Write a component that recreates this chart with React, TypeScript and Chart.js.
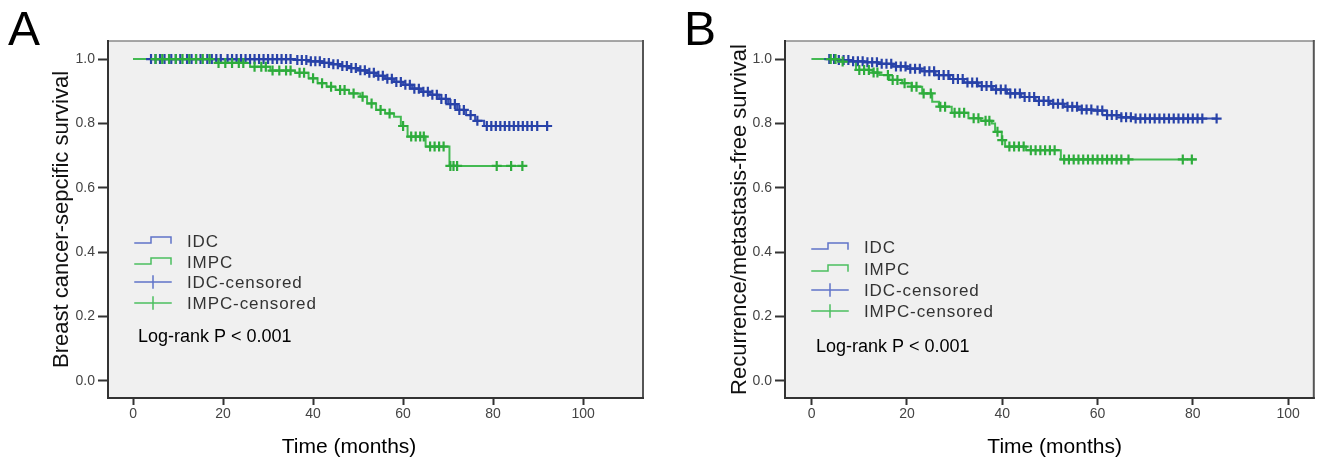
import React, { useEffect, useRef } from 'react';
import { Chart, registerables } from 'chart.js';
Chart.register(...registerables);

// ---- axis ticks ----
const xTickValues = [0, 20, 40, 60, 80, 100];
const yTickValues = [0, 0.2, 0.4, 0.6, 0.8, 1.0];

// ---- Panel A: breast cancer-specific survival ----
const idcA_times = [0, 36, 39, 42, 44, 46, 48, 50, 52, 54, 56, 58, 60, 62, 64, 66, 68, 70, 72, 74, 76, 78];
const idcA_surv = [1.0, 0.997, 0.993, 0.988, 0.984, 0.978, 0.972, 0.965, 0.957, 0.948, 0.939, 0.929, 0.92, 0.908, 0.898, 0.889, 0.876, 0.86, 0.842, 0.826, 0.808, 0.792];
const idcA_end = 92;
const idcA_censor = [4, 5, 6, 7, 8.5, 9.5, 10.5, 12, 13, 14, 15, 16.5, 17.5, 18.5, 19.5, 21, 22, 23, 24, 25, 26, 27, 28, 29, 30, 31, 32, 33, 34, 35, 36.5, 37.5, 38.5, 39.5, 40.5, 41.5, 42.5, 43.5, 44.5, 45.5, 46.5, 47.5, 48.5, 49.5, 50.5, 51.5, 52.5, 53.5, 54.5, 55.5, 56.5, 57.5, 58.5, 59.5, 60.5, 61.5, 62.5, 63.5, 64.5, 65.5, 66.5, 67.5, 68.5, 69.5, 70.5, 71.5, 72.5, 73.5, 75, 76.5, 78.6, 79.6, 80.6, 81.6, 82.6, 83.6, 84.6, 85.6, 86.6, 87.6, 88.6, 89.8, 92];

const impcA_times = [0, 18.5, 26, 30.5, 36, 39, 41, 43, 45, 48, 50.5, 52, 54, 56, 58, 59.5, 61, 65, 70.3];
const impcA_surv = [1.0, 0.988, 0.976, 0.964, 0.957, 0.94, 0.925, 0.914, 0.904, 0.893, 0.883, 0.862, 0.842, 0.831, 0.821, 0.792, 0.759, 0.728, 0.668];
const impcA_end = 86.8;
const impcA_censor = [5, 6.5, 8, 9.5, 11, 12.5, 14, 15.5, 17, 19, 20.5, 22, 23.5, 24.5, 27, 28.5, 29.5, 31, 32.5, 34, 35, 37, 38, 40, 42, 44, 46, 47, 49, 51, 53, 55, 57, 60, 61.8, 62.8, 63.8, 64.6, 66, 67, 68, 69, 70.5, 71.2, 72, 80.8, 84, 86.5];

// ---- Panel B: recurrence/metastasis-free survival ----
const idcB_times = [0, 5, 8, 11, 14, 17, 20, 23, 26, 29, 32, 35, 38, 41, 44, 47, 50, 53, 56, 59, 62, 65, 67.5];
const idcB_surv = [1.0, 0.997, 0.993, 0.99, 0.985, 0.977, 0.97, 0.962, 0.95, 0.938, 0.927, 0.916, 0.905, 0.893, 0.882, 0.87, 0.861, 0.852, 0.843, 0.84, 0.826, 0.819, 0.815];
const idcB_end = 85;
const idcB_censor = [3.7, 4.7, 5.7, 6.7, 7.7, 8.7, 9.7, 10.7, 11.7, 12.7, 13.7, 14.7, 15.7, 16.7, 17.7, 18.7, 19.7, 20.7, 21.7, 22.7, 23.7, 24.7, 25.7, 26.7, 27.7, 28.7, 29.7, 30.7, 31.7, 32.7, 33.7, 34.7, 35.7, 36.7, 37.7, 38.7, 39.7, 40.7, 41.7, 42.7, 43.7, 44.7, 45.7, 46.7, 47.7, 48.7, 49.7, 50.7, 51.7, 52.7, 53.7, 54.7, 55.7, 56.7, 57.7, 58.7, 60, 61, 62, 63, 64, 65, 66, 67, 68, 69, 70, 71, 72, 73, 74, 75, 76, 77, 78, 79, 80, 81, 82, 85];

const impcB_times = [0, 5.5, 9.3, 12.8, 14.2, 16.3, 19, 21, 23.2, 25.3, 26.7, 29.4, 32.9, 35.5, 37.8, 38.5, 39.9, 40.6, 45, 52.3];
const impcB_surv = [1.0, 0.992, 0.966, 0.958, 0.95, 0.935, 0.925, 0.914, 0.893, 0.867, 0.852, 0.833, 0.816, 0.808, 0.8, 0.774, 0.748, 0.728, 0.717, 0.688];
const impcB_end = 80.8;
const impcB_censor = [4, 5, 6.5, 10, 11, 12, 13, 13.8, 16, 17, 18, 19.5, 21, 22, 23.5, 25, 27, 28, 30, 31, 32, 34, 35, 36.5, 37.3, 39, 40, 41.5, 42.5, 43.5, 44.5, 46, 47, 48, 49, 50, 51, 53, 54, 55, 56, 57, 58, 59, 60, 61, 62, 63, 64, 65, 66.5, 77.9, 79.8];

const legendLabels = ['IDC', 'IMPC', 'IDC-censored', 'IMPC-censored'];

// ---- colours ----
const BLUE_LINE = 'rgb(55,80,178)';
const BLUE_MARK = 'rgb(40,66,168)';
const GREEN_LINE = 'rgb(68,186,82)';
const GREEN_MARK = 'rgb(46,172,60)';
const BLUE_LEG = 'rgb(95,115,200)';
const GREEN_LEG = 'rgb(75,190,95)';
const FONT = '"Liberation Sans", Arial, sans-serif';

function stepPoints(times: number[], surv: number[], end: number) {
  const pts = times.map((t, i) => ({ x: t, y: surv[i] }));
  pts.push({ x: end, y: surv[surv.length - 1] });
  return pts;
}
function survAt(times: number[], surv: number[], t: number) {
  let v = surv[0];
  for (let i = 0; i < times.length; i++) if (times[i] <= t) v = surv[i];
  return v;
}
function censorPoints(times: number[], surv: number[], censor: number[]) {
  return censor.map((t) => ({ x: t, y: survAt(times, surv, t) }));
}

const decorPlugin = {
  id: 'kmDecor',
  beforeDraw(chart: any) {
    const { ctx, chartArea: ca } = chart;
    ctx.save();
    ctx.fillStyle = '#f0f0f0';
    ctx.fillRect(ca.left, ca.top, ca.right - ca.left, ca.bottom - ca.top);
    ctx.restore();
  },
  afterDraw(chart: any, _a: any, o: any) {
    const { ctx, chartArea: ca } = chart;
    ctx.save();
    // frame
    ctx.lineCap = 'square';
    ctx.strokeStyle = '#8a8a8a';
    ctx.lineWidth = 1.5;
    ctx.beginPath(); ctx.moveTo(ca.left, ca.top); ctx.lineTo(ca.right, ca.top); ctx.stroke();
    ctx.strokeStyle = '#555';
    ctx.lineWidth = 2;
    ctx.beginPath(); ctx.moveTo(ca.right, ca.top); ctx.lineTo(ca.right, ca.bottom); ctx.stroke();
    ctx.strokeStyle = '#333';
    ctx.beginPath(); ctx.moveTo(ca.left, ca.top); ctx.lineTo(ca.left, ca.bottom); ctx.lineTo(ca.right, ca.bottom); ctx.stroke();

    // panel letter
    ctx.fillStyle = '#000';
    ctx.font = `48px ${FONT}`;
    ctx.textBaseline = 'alphabetic';
    ctx.textAlign = 'left';
    ctx.fillText(o.letter, o.letterX, 45);

    // x axis title
    const xs = chart.scales.x;
    ctx.font = `21px ${FONT}`;
    ctx.textAlign = 'center';
    ctx.textBaseline = 'middle';
    ctx.fillText(o.xTitle, xs.getPixelForValue(o.xTitleAt), 447);

    // legend
    ctx.textAlign = 'left';
    ctx.font = `17px ${FONT}`;
    try { (ctx as any).letterSpacing = '0.9px'; } catch (e) {}
    const cols = [BLUE_LEG, GREEN_LEG, BLUE_LEG, GREEN_LEG];
    legendLabels.forEach((lab, i) => {
      const y = o.legendRows[i];
      const x0 = o.legendX;
      ctx.strokeStyle = cols[i];
      ctx.lineWidth = 1.5;
      ctx.beginPath();
      if (i < 2) {
        ctx.moveTo(x0, y + 2);
        ctx.lineTo(x0 + 16, y + 2);
        ctx.lineTo(x0 + 16, y - 4);
        ctx.lineTo(x0 + 36, y - 4);
        ctx.lineTo(x0 + 36, y + 2);
      } else {
        ctx.moveTo(x0, y);
        ctx.lineTo(x0 + 36, y);
        ctx.moveTo(x0 + 18, y - 6);
        ctx.lineTo(x0 + 18, y + 6);
      }
      ctx.stroke();
      ctx.fillStyle = '#333';
      ctx.fillText(lab, x0 + 52, y + 1);
    });
    try { (ctx as any).letterSpacing = '0px'; } catch (e) {}
    ctx.fillStyle = '#000';
    ctx.font = `18px ${FONT}`;
    ctx.fillText('Log-rank P < 0.001', o.logX, o.logY);
    ctx.restore();
  },
};

type PanelProps = {
  left: number;
  width: number;
  areaLeft: number;
  areaRight: number;
  yTitle: string;
  yTitlePad: number;
  xMin: number;
  xMax: number;
  idcT: number[]; idcS: number[]; idcEnd: number; idcC: number[];
  impcT: number[]; impcS: number[]; impcEnd: number; impcC: number[];
  decor: any;
};

function Panel(p: PanelProps) {
  const ref = useRef<HTMLCanvasElement | null>(null);
  useEffect(() => {
    if (!ref.current) return;
    const H = 463;
    const chart = new Chart(ref.current, {
      type: 'scatter',
      data: {
        datasets: [
          {
            label: 'IDC',
            data: stepPoints(p.idcT, p.idcS, p.idcEnd),
            showLine: true,
            stepped: 'before',
            borderColor: BLUE_LINE,
            borderWidth: 2,
            pointRadius: 0,
            order: 4,
          } as any,
          {
            label: 'IMPC',
            data: stepPoints(p.impcT, p.impcS, p.impcEnd),
            showLine: true,
            stepped: 'before',
            borderColor: GREEN_LINE,
            borderWidth: 2,
            pointRadius: 0,
            order: 3,
          } as any,
          {
            label: 'IDC-censored',
            data: censorPoints(p.idcT, p.idcS, p.idcC),
            pointStyle: 'cross',
            pointRadius: 5,
            borderColor: BLUE_MARK,
            backgroundColor: BLUE_MARK,
            borderWidth: 2.2,
            order: 2,
          } as any,
          {
            label: 'IMPC-censored',
            data: censorPoints(p.impcT, p.impcS, p.impcC),
            pointStyle: 'cross',
            pointRadius: 5,
            borderColor: GREEN_MARK,
            backgroundColor: GREEN_MARK,
            borderWidth: 2.2,
            order: 1,
          } as any,
        ],
      },
      options: {
        animation: false,
        responsive: false,
        devicePixelRatio: 1,
        events: [],
        layout: { padding: { left: 0, right: p.width - p.areaRight, top: 41, bottom: 0 } },
        plugins: {
          legend: { display: false },
          tooltip: { enabled: false },
          kmDecor: p.decor,
        } as any,
        scales: {
          x: {
            type: 'linear',
            min: p.xMin,
            max: p.xMax,
            afterBuildTicks: (s: any) => { s.ticks = xTickValues.map((value) => ({ value })); },
            afterFit: (s: any) => { s.height = H - 398; },
            border: { display: false },
            grid: { drawOnChartArea: false, drawTicks: true, tickLength: 7, tickColor: '#333', tickWidth: 2 },
            ticks: {
              padding: 1,
              color: '#444',
              font: { family: FONT, size: 14 },
              callback: (v: any) => String(v),
            },
          },
          y: {
            type: 'linear',
            min: -0.053,
            max: 1.056,
            afterBuildTicks: (s: any) => { s.ticks = yTickValues.map((value) => ({ value })); },
            afterFit: (s: any) => { s.width = p.areaLeft; },
            border: { display: false },
            grid: { drawOnChartArea: false, drawTicks: true, tickLength: 10, tickColor: '#333', tickWidth: 2 },
            ticks: {
              padding: 3,
              color: '#444',
              font: { family: FONT, size: 14 },
              callback: (v: any) => Number(v).toFixed(1),
            },
            title: {
              display: true,
              text: p.yTitle,
              color: '#111',
              font: { family: FONT, size: 22 },
              padding: { top: p.yTitlePad, bottom: 0 },
            },
          },
        },
      } as any,
      plugins: [decorPlugin],
    });
    return () => chart.destroy();
  }, []);
  return (
    <canvas
      ref={ref}
      width={p.width}
      height={463}
      style={{ position: 'absolute', left: p.left, top: 0, width: p.width, height: 463 }}
    />
  );
}

export default function App() {
  return (
    <div style={{ position: 'fixed', left: 0, top: 0, width: 1321, height: 463, background: '#fff', overflow: 'hidden' }}>
      <Panel
        left={0}
        width={660}
        areaLeft={108}
        areaRight={643}
        yTitle="Breast cancer-sepcific survival"
        yTitlePad={49}
        xMin={-5.56}
        xMax={113.3}
        idcT={idcA_times} idcS={idcA_surv} idcEnd={idcA_end} idcC={idcA_censor}
        impcT={impcA_times} impcS={impcA_surv} impcEnd={impcA_end} impcC={impcA_censor}
        decor={{ letter: 'A', letterX: 8, xTitle: 'Time (months)', xTitleAt: 48, legendX: 135, legendRows: [241, 262, 282, 303], logX: 138, logY: 337 }}
      />
      <Panel
        left={660}
        width={661}
        areaLeft={125}
        areaRight={658}
        yTitle="Recurrence/metastasis-free survival"
        yTitlePad={67}
        xMin={-5.6}
        xMax={105.4}
        idcT={idcB_times} idcS={idcB_surv} idcEnd={idcB_end} idcC={idcB_censor}
        impcT={impcB_times} impcS={impcB_surv} impcEnd={impcB_end} impcC={impcB_censor}
        decor={{ letter: 'B', letterX: 24, xTitle: 'Time (months)', xTitleAt: 51, legendX: 152, legendRows: [247, 269, 290, 311], logX: 156, logY: 347 }}
      />
    </div>
  );
}
